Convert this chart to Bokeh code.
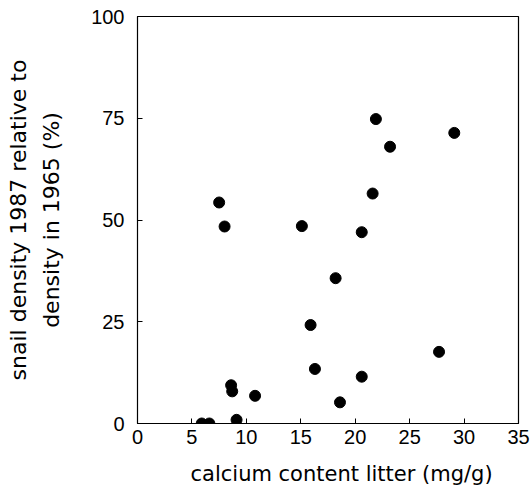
from bokeh.plotting import figure
from bokeh.models import LinearAxis, FixedTicker, Title, Range1d
from bokeh.embed import file_html
from bokeh.resources import INLINE

# data
calcium = [5.9, 6.6, 9.1, 8.6, 8.7, 10.8, 7.5, 8.0, 15.1, 20.6,
           21.6, 21.9, 23.2, 29.1, 18.2, 15.9, 16.3, 20.6, 18.6, 27.7]
density = [0.0, 0.0, 0.9, 9.4, 7.9, 6.8, 54.3, 48.4, 48.5, 47.0,
           56.5, 74.8, 68.0, 71.4, 35.7, 24.2, 13.4, 11.5, 5.2, 17.6]
x_ticks = [0, 5, 10, 15, 20, 25, 30, 35]
y_ticks = [0, 25, 50, 75, 100]
x_label = "calcium content litter (mg/g)"
y_label_1 = "snail density 1987 relative to"
y_label_2 = "density in 1965 (%)"

p = figure(width=530, height=493, output_backend="svg", toolbar_location=None,
           x_range=Range1d(0, 35), y_range=Range1d(0, 100),
           min_border_left=137, min_border_right=12,
           min_border_top=16, min_border_bottom=70)

p.xgrid.visible = False
p.ygrid.visible = False
p.outline_line_color = "black"
p.outline_line_width = 1.2
p.background_fill_color = "white"
p.border_fill_color = "white"

tick_font = "Liberation Sans"
label_font = "DejaVu Sans"

for ax in (p.xaxis[0], p.yaxis[0]):
    ax.major_tick_in = 5
    ax.major_tick_out = 0
    ax.minor_tick_in = 0
    ax.minor_tick_out = 0
    ax.axis_line_color = "black"
    ax.major_tick_line_color = "black"
    ax.major_label_text_font = tick_font
    ax.major_label_text_font_size = "20px"
    ax.major_label_text_color = "black"

p.xaxis[0].ticker = FixedTicker(ticks=x_ticks)
p.xaxis[0].major_label_standoff = 6

p.yaxis[0].ticker = FixedTicker(ticks=y_ticks)
p.yaxis[0].major_label_standoff = 13
p.yaxis[0].axis_label = y_label_2
p.yaxis[0].axis_label_text_font = label_font
p.yaxis[0].axis_label_text_font_size = "22px"
p.yaxis[0].axis_label_text_font_style = "normal"
p.yaxis[0].axis_label_text_color = "black"
p.yaxis[0].axis_label_standoff = 24

outer = LinearAxis(ticker=FixedTicker(ticks=[]), axis_label=y_label_1,
                   axis_line_color=None, major_tick_in=0, major_tick_out=0,
                   minor_tick_in=0, minor_tick_out=0, major_label_standoff=0,
                   axis_label_standoff=6, axis_label_text_font=label_font,
                   axis_label_text_font_size="22px",
                   axis_label_text_font_style="normal",
                   axis_label_text_color="black")
p.add_layout(outer, "left")

# blank spacer between the x tick labels and the x label
p.add_layout(Title(text=" ", text_font_size="1px", standoff=10), "below")

p.add_layout(Title(text=x_label, align="left", offset=53,
                   vertical_align="bottom",
                   text_font=label_font, text_font_size="21px",
                   text_font_style="normal", text_color="black",
                   standoff=0), "below")

p.scatter(calcium, density, size=11, color="black")

open("out.html", "w").write(file_html(p, INLINE))
